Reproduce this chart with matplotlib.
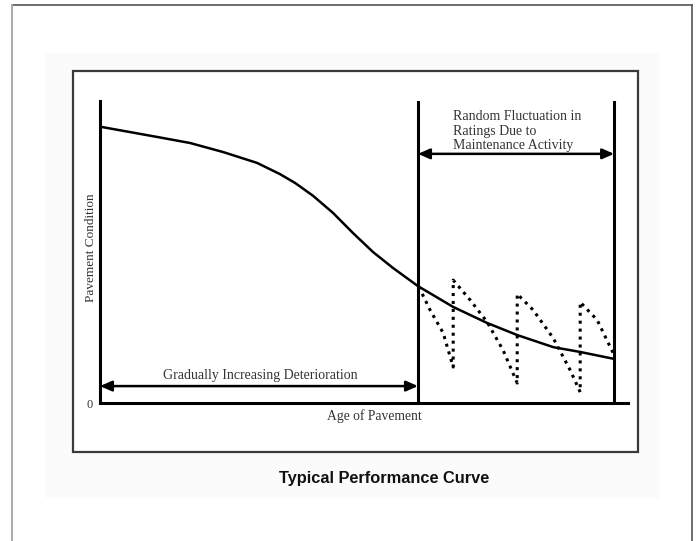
import matplotlib
matplotlib.use("Agg")
import matplotlib.pyplot as plt
from matplotlib.patches import Rectangle
from matplotlib.lines import Line2D

# ---- data ----
age_curve = [0.0, 2.22, 3.50, 4.79, 6.11, 7.00, 7.60, 8.29, 9.07, 9.84, 10.62,
             11.40, 12.37, 13.74, 15.06, 16.23, 17.63, 18.68, 20.0]
cond_curve = [91.5, 88.1, 86.1, 83.1, 79.5, 75.8, 72.8, 68.6, 62.9, 56.3, 50.0,
              44.7, 38.7, 31.8, 26.5, 22.5, 18.5, 16.9, 14.6]

age_fluct = [12.4, 12.84, 13.35, 13.74, 13.74, 14.40, 15.06, 15.68, 16.23, 16.23,
             16.85, 17.63, 18.29, 18.68, 18.68, 19.34, 19.96]
cond_fluct = [38.5, 30.8, 23.2, 11.9, 40.7, 34.1, 26.8, 17.5, 6.6, 36.1,
              30.8, 21.5, 10.9, 3.6, 33.4, 27.5, 16.6]

split_age = 12.37      # start of maintenance period
end_age = 20.0         # end of analysis period
x_max = 20.54
y_max = 100.0
y_ticks = [0]
y_tick_labels = ["0"]

W, H = 697, 541
fig = plt.figure(figsize=(W / 100, H / 100), dpi=100)
fig.patch.set_facecolor("white")

# ---- decorative frame (pixel coordinates) ----
bg = fig.add_axes([0, 0, 1, 1])
bg.set_xlim(0, W)
bg.set_ylim(H, 0)
bg.axis("off")
bg.add_patch(Rectangle((45, 53), 615, 445, facecolor="#fbfbfb", edgecolor="none"))
bg.add_patch(Rectangle((73, 71), 565, 381, facecolor="white", edgecolor="#3a3a3a", lw=1.6))
bg.add_line(Line2D([12, 692], [5, 5], color="#555555", lw=1.2))
bg.add_line(Line2D([12, 12], [5, H], color="#aaaaaa", lw=1.4))
bg.add_line(Line2D([692, 692], [5, H], color="#555555", lw=1.2))

fig.text(384 / W, 1 - 479 / H, "Typical Performance Curve", ha="center", va="center",
         fontsize=11.8, fontweight="bold", family="Liberation Sans", color="#111111")

# ---- chart axes ----
serif = "Liberation Serif"
ax = fig.add_axes([100 / W, 1 - 403 / H, 528 / W, 302 / H])
ax.set_xlim(0, x_max)
ax.set_ylim(0, y_max)
ax.patch.set_alpha(0)
for s in ("top", "right"):
    ax.spines[s].set_visible(False)
for s in ("left", "bottom"):
    ax.spines[s].set_linewidth(2.2)
    ax.spines[s].set_color("black")
ax.set_xticks([])
ax.set_yticks(y_ticks)
ax.set_yticklabels(y_tick_labels, family=serif, fontsize=9, color="#333333")
ax.tick_params(axis="y", length=0, pad=5)

ax.set_ylabel("Pavement Condition", family=serif, fontsize=9.5, color="#333333")
ax.yaxis.set_label_coords(-0.006, 0.513)
ax.set_xlabel("Age of Pavement", family=serif, fontsize=9.8, color="#333333")
ax.xaxis.set_label_coords(0.519, -0.022)

# vertical boundaries
ax.axvline(split_age, ymin=0, ymax=1, color="black", lw=2.2)
ax.axvline(end_age, ymin=0, ymax=1, color="black", lw=2.2)

# performance curve
ax.plot(age_curve, cond_curve, color="black", lw=1.8, solid_capstyle="round",
        solid_joinstyle="round")
# maintenance fluctuation
ax.plot(age_fluct, cond_fluct, color="black", lw=2.2, linestyle=(0, (1, 1.6)))

# arrows
arrow_kw = dict(arrowstyle="<|-|>,head_length=0.5,head_width=0.22", lw=1.8,
                color="black", mutation_scale=14, shrinkA=0, shrinkB=0)
ax.annotate("", xy=(split_age, 5.6), xytext=(0, 5.6), arrowprops=arrow_kw)
ax.annotate("", xy=(end_age, 82.5), xytext=(split_age, 82.5), arrowprops=arrow_kw)

ax.text(6.23, 9.0, "Gradually Increasing Deterioration", ha="center", va="center",
        family=serif, fontsize=10, color="#333333")
ax.text(13.74, 90.0, "Random Fluctuation in\nRatings Due to\nMaintenance Activity",
        ha="left", va="center", family=serif, fontsize=10, color="#333333",
        linespacing=1.12)

fig.savefig("out.png", dpi=100)
